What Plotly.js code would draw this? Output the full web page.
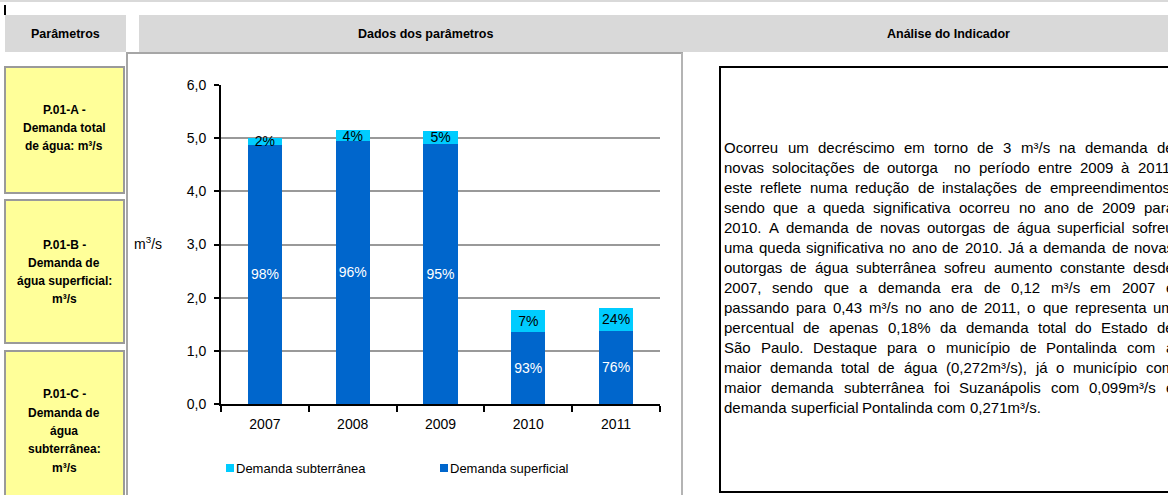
<!DOCTYPE html>
<html><head><meta charset="utf-8">
<script src="https://cdn.plot.ly/plotly-3.0.1.min.js"></script>
<style>html,body{margin:0;padding:0;background:#fff;overflow:hidden}</style>
</head><body><div id="chart" style="width:1168px;height:495px"></div>
<script>
// ---- data ----
const years = ['2007', '2008', '2009', '2010', '2011'];
const superficial = [4.88, 4.95, 4.89, 1.35, 1.38];
const subterranea = [0.12, 0.20, 0.25, 0.41, 0.42];
const superficialLabels = ['98%', '96%', '95%', '93%', '76%'];
const subterraneaLabels = ['2%', '4%', '5%', '7%', '24%'];
const seriesNames = ['Demanda subterrânea', 'Demanda superficial'];
const yTickValues = [0, 1, 2, 3, 4, 5, 6];
const headers = ['Parâmetros', 'Dados dos parâmetros', 'Análise do Indicador'];
const paramBox1 = ['P.01-A -', 'Demanda total', 'de água: m³/s'];
const paramBox2 = ['P.01-B -', 'Demanda de', 'água superficial:', 'm³/s'];
const paramBox3 = ['P.01-C -', 'Demanda de', 'água', 'subterrânea:', 'm³/s'];
const analysisLines = [
  'Ocorreu um decréscimo em torno de 3 m³/s na demanda de',
  'novas solocitações de outorga  no período entre 2009 à 2011,',
  'este reflete numa redução de instalações de empreendimentos,',
  'sendo que a queda significativa ocorreu no ano de 2009 para',
  '2010. A demanda de novas outorgas de água superficial sofreu',
  'uma queda significativa no ano de 2010. Já a demanda de novas',
  'outorgas de água subterrânea sofreu aumento constante desde',
  '2007, sendo que a demanda era de 0,12 m³/s em 2007 e',
  'passando para 0,43 m³/s no ano de 2011, o que representa um',
  'percentual de apenas 0,18% da demanda total do Estado de',
  'São Paulo. Destaque para o município de Pontalinda com a',
  'maior demanda total de água (0,272m³/s), já o município com',
  'maior demanda subterrânea foi Suzanápolis com 0,099m³/s e',
  'demanda superficial Pontalinda com 0,271m³/s.'
];

// ---- helpers ----
const W = 1168, H = 495;
const px = x => x / W;
const py = y => 1 - y / H;
const FONT = 'Liberation Sans, Arial, sans-serif';
const DARK = '#0066cc', LIGHT = '#00ccff';

const shapes = [];
const annotations = [];
function rect(x0, y0, x1, y1, fill, lineColor, lw) {
  shapes.push({type: 'rect', xref: 'paper', yref: 'paper', layer: 'below',
    x0: px(x0), x1: px(x1), y0: py(y1), y1: py(y0),
    fillcolor: fill || 'rgba(0,0,0,0)',
    line: {color: lineColor || 'rgba(0,0,0,0)', width: lw || 0}});
}
function line(x0, y0, x1, y1, color, lw) {
  shapes.push({type: 'line', xref: 'paper', yref: 'paper', layer: 'below',
    x0: px(x0), x1: px(x1), y0: py(y0), y1: py(y1), line: {color: color, width: lw}});
}
function label(x, y, text, opts) {
  opts = opts || {};
  annotations.push({xref: 'paper', yref: 'paper', x: px(x), y: py(y), text: text,
    showarrow: false, xanchor: opts.xanchor || 'center', yanchor: 'middle',
    borderpad: 0, borderwidth: 0,
    font: {family: FONT, size: opts.size || 12, color: opts.color || '#000',
      weight: opts.bold ? 'bold' : 'normal'}});
}

// top strip & mark
rect(0, 0, W, 2, '#d9d9d9');
rect(4, 5, 6, 15, '#000');
// headers
rect(5, 15, 126, 52, '#d9d9d9');
rect(139, 15, W, 52, '#d9d9d9');
label(65, 34, headers[0], {bold: true, size: 12.5});
label(426, 34, headers[1], {bold: true, size: 12.5});
label(948, 34, headers[2], {bold: true, size: 12.5});
// chart panel borders
line(126, 53, 683, 53, '#a6a6a6', 2);
line(127, 53, 127, 495, '#a6a6a6', 2);
line(682, 53, 682, 495, '#b4b4b4', 2);
// parameter boxes
const boxes = [[67, 193, paramBox1], [200, 343, paramBox2], [351, 500, paramBox3]];
const boxCenters = [128, 272, 431];
boxes.forEach((b, i) => {
  rect(5, b[0], 124, b[1], '#ffff99', '#9a9a9a', 2);
  const lines = b[2];
  const step = 18.3;
  const start = boxCenters[i] - step * (lines.length - 1) / 2;
  lines.forEach((t, j) => label(64, start + j * step, t, {bold: true, size: 12}));
});
// axis title
label(148, 243, 'm<sup>3</sup>/s', {size: 14});
// legend (custom)
rect(226, 464, 234, 472, LIGHT);
label(236, 468, seriesNames[0], {xanchor: 'left', size: 13});
rect(440, 464, 448, 472, DARK);
label(450, 468, seriesNames[1], {xanchor: 'left', size: 13});

// analysis text box
rect(720, 67, 1190, 492, null, '#000', 2);
const ctx = document.createElement('canvas').getContext('2d');
const TSIZE = 15;
ctx.font = TSIZE + 'px "Liberation Sans"';
const left = 724, right = 1174;
analysisLines.forEach((ln, i) => {
  const y = 147.5 + i * 20;
  const toks = ln.split(' ');
  const sp = ctx.measureText(' ').width;
  const ws = toks.map(t => ctx.measureText(t).width);
  const natural = ws.reduce((a, b) => a + b, 0) + sp * (toks.length - 1);
  const last = i === analysisLines.length - 1;
  const extra = (!last && toks.length > 1) ? Math.max(0, (right - left - natural) / (toks.length - 1)) : 0;
  let x = left;
  toks.forEach((t, k) => {
    if (t.length) label(x, y, t, {xanchor: 'left', size: TSIZE});
    x += ws[k] + sp + extra;
  });
});

// ---- traces ----
const traces = [
  {type: 'bar', x: years, y: superficial, name: seriesNames[1], marker: {color: DARK},
   text: superficialLabels, textposition: 'inside', insidetextanchor: 'middle', textangle: 0,
   constraintext: 'none', textfont: {family: FONT, size: 14, color: '#ffffff'}, hoverinfo: 'skip'},
  {type: 'bar', x: years, y: subterranea, name: seriesNames[0], marker: {color: LIGHT},
   text: subterraneaLabels, textposition: 'inside', insidetextanchor: 'middle', textangle: 0,
   constraintext: 'none', textfont: {family: FONT, size: 14, color: '#000000'}, hoverinfo: 'skip'}
];

const layout = {
  width: W, height: H,
  margin: {l: 0, r: 0, t: 0, b: 0, pad: 0},
  paper_bgcolor: '#ffffff', plot_bgcolor: 'rgba(0,0,0,0)',
  separators: ',.',
  barmode: 'stack', bargap: 0.61,
  showlegend: false,
  font: {family: FONT, size: 14, color: '#000'},
  xaxis: {domain: [px(221), px(660)], type: 'category', showline: true, linecolor: '#000', linewidth: 2,
    ticks: 'outside', tickson: 'boundaries', ticklen: 6, tickwidth: 2, tickcolor: '#000',
    showgrid: false, zeroline: false, tickfont: {family: FONT, size: 14, color: '#000'},
    ticklabelstandoff: 6, fixedrange: true},
  yaxis: {domain: [py(404), py(85)], range: [0, 6], tickvals: yTickValues, tickformat: '.1f',
    showline: true, linecolor: '#000', linewidth: 2, ticks: 'outside', ticklen: 5, tickwidth: 2,
    tickcolor: '#000', showgrid: true, gridcolor: '#999999', gridwidth: 2, zeroline: false,
    tickfont: {family: FONT, size: 14, color: '#000'}, ticklabelstandoff: 5, fixedrange: true},
  shapes: shapes,
  annotations: annotations
};

Plotly.newPlot('chart', traces, layout, {displayModeBar: false, staticPlot: true});
</script></body></html>
